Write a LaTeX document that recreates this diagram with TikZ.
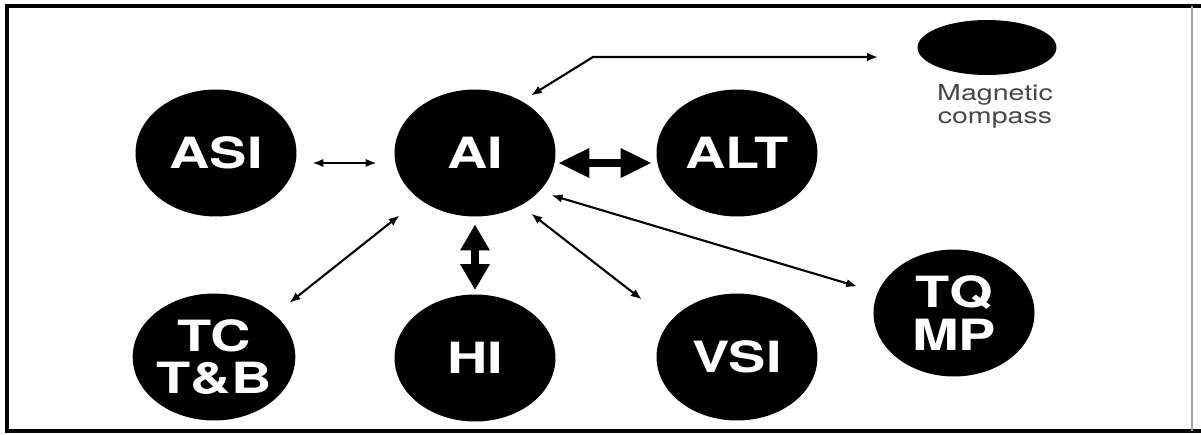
\documentclass[tikz,border=0pt]{standalone}
\usepackage{fontspec}
\setsansfont{TeX Gyre Heros}
\usetikzlibrary{positioning, shapes.geometric, arrows.meta}
\newcommand{\widetext}[1]{\scalebox{1.3}[1]{#1}}

\begin{document}
\begin{tikzpicture}[
  x=0.02cm, y=-0.02cm,
  font=\sffamily,
  instrument/.style={
    ellipse,
    fill=black,
    inner sep=0pt,
    outer sep=0pt,
    minimum width=3.22cm,
    minimum height=2.54cm,
    align=center,
    text=white,
    font=\sffamily\bfseries\fontsize{24.5}{24}\selectfont
  },
  thinarr/.style={line width=1.2pt,
    arrows={Latex[length=0.22cm,width=0.17cm]-Latex[length=0.22cm,width=0.17cm]}},
  thickarr/.style={line width=4pt,
    arrows={Triangle[length=#1,width=0.56cm]-Triangle[length=#1,width=0.56cm]}},
  thickarr/.default=0.62cm
]
  \useasboundingbox (0,0) rectangle (1201,434);

  % --- Frame ---
  \draw[line width=1.8pt] (1201,6) -- (7,6) -- (7,431) -- (1201,431);
  \draw[black!35, line width=0.6pt] (1192,6) -- (1192,431);

  % --- Instruments ---
  \node[instrument] (asi) at (216,153) {\widetext{ASI}};
  \node[instrument] (ai)  at (475,153) {\widetext{AI}};
  \node[instrument] (alt) at (737,153) {\widetext{ALT}};
  \node[instrument] (tc)  at (214,357) {\widetext{TC}\\\widetext{T\&B}};
  \node[instrument] (hi)  at (475,358) {\widetext{HI}};
  \node[instrument] (vsi) at (737,357) {\widetext{VSI}};
  \node[instrument] (tq)  at (954,313) {\widetext{TQ}\\\widetext{MP}};

  % --- Magnetic compass ---
  \node[ellipse, fill=black, inner sep=0pt, minimum width=2.78cm, minimum height=1.1cm] (mc) at (987,47.5) {};
  \node[below=0.18cm of mc, xshift=0.16cm, inner sep=0pt, align=center, text=black!72,
        font=\sffamily\fontsize{12.5}{13}\selectfont] (mclabel) {\widetext{Magnetic}\\\widetext{compass}};

  % --- Connectors to the attitude indicator ---
  \draw[thinarr, shorten <=0.32cm, shorten >=0.36cm] ([yshift=-0.2cm]asi.east) -- ([yshift=-0.2cm]ai.west);
  \draw[thickarr, shorten <=0.06cm, shorten >=0.1cm] ([yshift=-0.2cm]ai.east) -- ([yshift=-0.2cm]alt.west);
  \draw[thickarr=0.52cm, shorten <=0.16cm, shorten >=0.09cm] (ai.south) -- (hi.north);

  \foreach \a/\b/\s/\e in {ai.220/tc.35/0.52cm/0.38cm, ai.-49/vsi.152/0.27cm/0.72cm, ai.-31/tq.165/0.26cm/0.43cm}
    \draw[thinarr, shorten <=\s, shorten >=\e] (\a) -- (\b);

  \coordinate (bend) at (593,57);
  \draw[thinarr, shorten <=0.22cm, shorten >=0.78cm] (ai.48) -- (bend) -- ([yshift=-0.19cm]mc.west);

\end{tikzpicture}
\end{document}
